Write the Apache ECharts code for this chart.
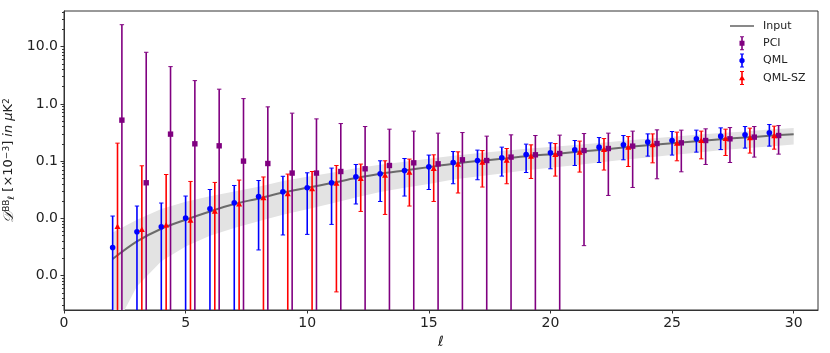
<!DOCTYPE html>
<html>
<head>
<meta charset="utf-8">
<script src="https://cdn.jsdelivr.net/npm/echarts@6/dist/echarts.min.js"></script>
<style>
  html, body { margin: 0; padding: 0; background: #fff; }
  #chart { width: 830px; height: 353px; }
</style>
</head>
<body>
<div id="chart"></div>
<script>
// multipoles of the measured points
const ells = [2, 3, 4, 5, 6, 7, 8, 9, 10, 11, 12, 13, 14, 15, 16, 17, 18, 19, 20, 21, 22, 23, 24, 25, 26, 27, 28, 29];

// input spectrum and its band (x1e-3 uK^2)
const inputEll = [2, 3, 4, 5, 6, 7, 8, 9, 10, 11, 12, 13, 14, 15, 16, 17, 18, 19, 20, 21, 22, 23, 24, 25, 26, 27, 28, 29, 30];
const inputVal = [0.00195, 0.00395, 0.00658, 0.00946, 0.0132, 0.0178, 0.0222, 0.0283, 0.0342, 0.0413, 0.0505, 0.060, 0.0686, 0.0785, 0.0897, 0.100, 0.110, 0.122, 0.1315, 0.1436, 0.157, 0.173, 0.190, 0.206, 0.223, 0.242, 0.258, 0.277, 0.296];
const bandHigh = [0.00566, 0.00948, 0.0145, 0.0194, 0.0244, 0.0294, 0.0355, 0.0447, 0.0534, 0.0628, 0.0747, 0.0864, 0.0974, 0.110, 0.124, 0.137, 0.150, 0.165, 0.176, 0.191, 0.207, 0.227, 0.247, 0.266, 0.288, 0.310, 0.330, 0.355, 0.379];
const bandLow = [0.0001, 0.00065, 0.00178, 0.00322, 0.00496, 0.00676, 0.00888, 0.0116, 0.0144, 0.0182, 0.0232, 0.0288, 0.0343, 0.0400, 0.0475, 0.054, 0.0605, 0.0695, 0.0763, 0.0847, 0.0942, 0.1055, 0.1159, 0.1277, 0.1405, 0.1549, 0.1677, 0.180, 0.195];

// QML (null low = error bar runs below the axis)
const qmlVal = [0.00310, 0.00583, 0.00713, 0.0101, 0.0147, 0.0187, 0.0241, 0.0291, 0.0342, 0.0418, 0.0532, 0.060, 0.0686, 0.0796, 0.0946, 0.1023, 0.1143, 0.1303, 0.1396, 0.1574, 0.1754, 0.1923, 0.2148, 0.229, 0.245, 0.273, 0.2877, 0.312];
const qmlHigh = [0.01096, 0.0164, 0.0185, 0.0245, 0.0319, 0.0375, 0.0458, 0.0543, 0.0625, 0.0755, 0.0873, 0.1012, 0.111, 0.1274, 0.147, 0.1556, 0.1754, 0.198, 0.2085, 0.229, 0.258, 0.280, 0.299, 0.329, 0.3475, 0.381, 0.402, 0.4355];
const qmlLow = [null, null, null, null, null, null, 0.0028, 0.00512, 0.00524, 0.00783, 0.0178, 0.0197, 0.0245, 0.0319, 0.0402, 0.0472, 0.0547, 0.0632, 0.0734, 0.0838, 0.0946, 0.1054, 0.1222, 0.1274, 0.1436, 0.159, 0.1687, 0.1828];

// QML-SZ
const szVal = [0.00713, 0.00632, 0.00752, 0.00918, 0.0132, 0.0175, 0.0226, 0.0265, 0.0324, 0.0406, 0.0491, 0.0561, 0.0632, 0.0734, 0.0873, 0.0946, 0.1023, 0.1202, 0.1288, 0.1413, 0.1574, 0.1726, 0.190, 0.2028, 0.226, 0.245, 0.252, 0.273];
const szHigh = [0.206, 0.0828, 0.0583, 0.0441, 0.0424, 0.0466, 0.0528, 0.0593, 0.0658, 0.0838, 0.0887, 0.1012, 0.1084, 0.1288, 0.1452, 0.153, 0.166, 0.1923, 0.2028, 0.2234, 0.2478, 0.2685, 0.299, 0.3206, 0.334, 0.3614, 0.3767, 0.408];
const szLow = [null, null, null, null, null, null, null, null, null, 0.000518, 0.0132, 0.0117, 0.0164, 0.0197, 0.0277, 0.0352, 0.0402, 0.0497, 0.0547, 0.0643, 0.0697, 0.0805, 0.0933, 0.1012, 0.1096, 0.1253, 0.138, 0.1618];

// PCI
const pciVal = [0.520, 0.0418, 0.296, 0.2005, 0.185, 0.100, 0.0908, 0.0618, 0.0618, 0.0658, 0.0734, 0.0838, 0.0933, 0.0897, 0.1054, 0.1023, 0.1175, 0.1288, 0.1358, 0.153, 0.166, 0.1828, 0.2028, 0.2085, 0.229, 0.245, 0.2624, 0.280];
const pciHigh = [24.2, 7.98, 4.48, 2.55, 1.807, 1.236, 0.887, 0.689, 0.547, 0.453, 0.402, 0.3614, 0.334, 0.308, 0.3155, 0.273, 0.2877, 0.280, 0.2844, 0.303, 0.308, 0.334, 0.3516, 0.3475, 0.3664, 0.3855, 0.402, 0.418];
const pciLow = [null, null, null, null, null, null, null, null, null, null, null, null, null, null, null, null, null, null, null, 0.00333, 0.0251, 0.0346, 0.0491, 0.065, 0.0873, 0.0946, 0.1175, 0.1324];

// small shift in ell between the three estimators
const xShift = { QML: 0, 'QML-SZ': 0.2, PCI: 0.38 };

const xTicks = [0, 5, 10, 15, 20, 25, 30];
const yTicks = [0.001, 0.01, 0.1, 1, 10];
const yMinorTicks = [0.0003, 0.0004, 0.0005, 0.0006, 0.0007, 0.0008, 0.0009,
  0.002, 0.003, 0.004, 0.005, 0.006, 0.007, 0.008, 0.009,
  0.02, 0.03, 0.04, 0.05, 0.06, 0.07, 0.08, 0.09,
  0.2, 0.3, 0.4, 0.5, 0.6, 0.7, 0.8, 0.9,
  2, 3, 4, 5, 6, 7, 8, 9, 20, 30, 40];

const FONT = "DejaVu Sans";
const Y_MIN = 0.00025, Y_MAX = 42;

let chartDom = document.getElementById("chart");
let myChart = echarts.init(chartDom);

// error bar drawn per point: line, caps and marker
function errorBars(name, color, marker, vals, lows, highs) {
  return {
    name: name,
    type: "custom",
    clip: true,
    encode: { x: 0, y: [1, 2] },
    data: ells.map((l, i) => [l + xShift[name], vals[i], highs[i]]),
    renderItem: function (params, api) {
      const cs = params.coordSys;
      const x = api.value(0);
      const pc = api.coord([x, api.value(1)]);
      const ph = api.coord([x, api.value(2)]);
      const low = lows[params.dataIndex];
      const pl = low == null ? [pc[0], cs.y + cs.height + 4] : api.coord([x, low]);
      const cx = pc[0], cy = pc[1];
      const kids = [
        { type: "line", shape: { x1: cx, y1: pl[1], x2: cx, y2: ph[1] }, style: { stroke: color, lineWidth: 1.6 } },
        { type: "line", shape: { x1: cx - 2.2, y1: ph[1], x2: cx + 2.2, y2: ph[1] }, style: { stroke: color, lineWidth: 1 } }
      ];
      if (low != null) {
        kids.push({ type: "line", shape: { x1: cx - 2.2, y1: pl[1], x2: cx + 2.2, y2: pl[1] }, style: { stroke: color, lineWidth: 1 } });
      }
      if (marker === "circle") {
        kids.push({ type: "circle", shape: { cx: cx, cy: cy, r: 2.8 }, style: { fill: color } });
      } else if (marker === "square") {
        kids.push({ type: "rect", shape: { x: cx - 2.7, y: cy - 2.7, width: 5.4, height: 5.4 }, style: { fill: color } });
      } else {
        kids.push({ type: "polygon", shape: { points: [[cx, cy - 3.3], [cx + 3, cy + 2.2], [cx - 3, cy + 2.2]] }, style: { fill: color } });
      }
      return { type: "group", children: kids };
    },
    itemStyle: { color: color },
    z: 4
  };
}

// legend icons: error bar + marker inside a 24x14 box
const barPart = "M0,7 M24,7 M11.2,0 L12.8,0 L12.8,14 L11.2,14 Z M10,0 L14,0 L14,1 L10,1 Z M10,13 L14,13 L14,14 L10,14 Z ";
const iconSquare = "path://" + barPart + "M9.5,4.5 L14.5,4.5 L14.5,9.5 L9.5,9.5 Z";
const iconCircle = "path://" + barPart + "M14.6,8.1 L13.1,9.6 L10.9,9.6 L9.4,8.1 L9.4,5.9 L10.9,4.4 L13.1,4.4 L14.6,5.9 Z";
const iconTri = "path://" + barPart + "M12,4 L15,9.3 L9,9.3 Z";
const iconLine = "path://M0,0 M24,14 M0,6.2 L24,6.2 L24,7.8 L0,7.8 Z";

let option = {
  animation: false,
  backgroundColor: "#fff",
  grid: {
    left: 64, right: 12, top: 11, bottom: 43,
    show: true, borderColor: "#333", borderWidth: 1,
    containLabel: false, outerBoundsMode: "none"
  },
  legend: {
    orient: "vertical",
    left: 725, top: 14,
    itemWidth: 24, itemHeight: 14, itemGap: 3.3,
    textStyle: { fontFamily: FONT, fontSize: 11, color: "#222", padding: [0, 0, 0, 4] },
    data: [
      { name: "Input", icon: iconLine },
      { name: "PCI", icon: iconSquare },
      { name: "QML", icon: iconCircle },
      { name: "QML-SZ", icon: iconTri }
    ]
  },
  xAxis: {
    type: "value",
    min: 0, max: 31,
    name: "ℓ",
    nameLocation: "middle",
    nameGap: 23,
    nameTextStyle: { fontFamily: FONT, fontSize: 14, fontStyle: "italic", color: "#222" },
    axisLine: { lineStyle: { color: "#333", width: 1 } },
    axisTick: { show: true, length: 3.5, customValues: xTicks, lineStyle: { color: "#333" } },
    axisLabel: { customValues: xTicks, margin: 6, fontFamily: FONT, fontSize: 14, color: "#222" },
    splitLine: { show: false }
  },
  yAxis: [
    {
      type: "log",
      logBase: 10,
      min: Y_MIN, max: Y_MAX,
      name: "{d|𝒟}{sup|BB}{sub|ℓ} [×10{sup|−3}] {it|in μ}K{sup|2}",
      nameLocation: "middle",
      nameGap: 38,
      nameTextStyle: {
        fontFamily: FONT, fontSize: 13, color: "#222",
        rich: {
          d: { fontFamily: "DejaVu Serif", fontSize: 14, fontStyle: "italic", color: "#222" },
          sup: { fontFamily: FONT, fontSize: 9, verticalAlign: "top", color: "#222" },
          sub: { fontFamily: FONT, fontSize: 9, fontStyle: "italic", verticalAlign: "bottom", color: "#222" },
          it: { fontFamily: FONT, fontSize: 13, fontStyle: "italic", color: "#222" }
        }
      },
      axisLine: { show: true, lineStyle: { color: "#333", width: 1 } },
      axisTick: { show: true, length: 3.5, customValues: yTicks, lineStyle: { color: "#333" } },
      axisLabel: {
        customValues: yTicks, margin: 6, fontFamily: FONT, fontSize: 14, color: "#222",
        formatter: (v) => Number(v).toFixed(1)
      },
      splitLine: { show: false }
    },
    {
      // only carries the minor ticks of the log axis
      type: "log",
      logBase: 10,
      position: "left",
      min: Y_MIN, max: Y_MAX,
      axisLine: { show: false },
      axisTick: { show: true, length: 2, customValues: yMinorTicks, lineStyle: { color: "#333" } },
      axisLabel: { show: false },
      splitLine: { show: false }
    }
  ],
  series: [
    {
      name: "band",
      type: "custom",
      clip: true,
      silent: true,
      encode: { x: 0, y: [1, 2] },
      data: inputEll.map((l, i) => [l, bandLow[i], bandHigh[i]]),
      renderItem: function (params, api) {
        if (params.dataIndex !== 0) return;
        const up = [], dn = [];
        for (let i = 0; i < inputEll.length; i++) {
          up.push(api.coord([api.value(0, i), api.value(2, i)]));
          dn.push(api.coord([api.value(0, i), api.value(1, i)]));
        }
        return {
          type: "polygon",
          shape: { points: up.concat(dn.reverse()) },
          style: { fill: "#e3e3e3" }
        };
      },
      z: 1
    },
    {
      name: "Input",
      type: "line",
      data: inputEll.map((l, i) => [l, inputVal[i]]),
      symbol: "none",
      smooth: 0.3,
      lineStyle: { color: "#6b6b6b", width: 2 },
      itemStyle: { color: "#6b6b6b" },
      z: 2
    },
    errorBars("PCI", "#800080", "square", pciVal, pciLow, pciHigh),
    errorBars("QML", "#0000ff", "circle", qmlVal, qmlLow, qmlHigh),
    errorBars("QML-SZ", "#ff0000", "triangle", szVal, szLow, szHigh)
  ]
};

myChart.setOption(option);
</script>
</body>
</html>
